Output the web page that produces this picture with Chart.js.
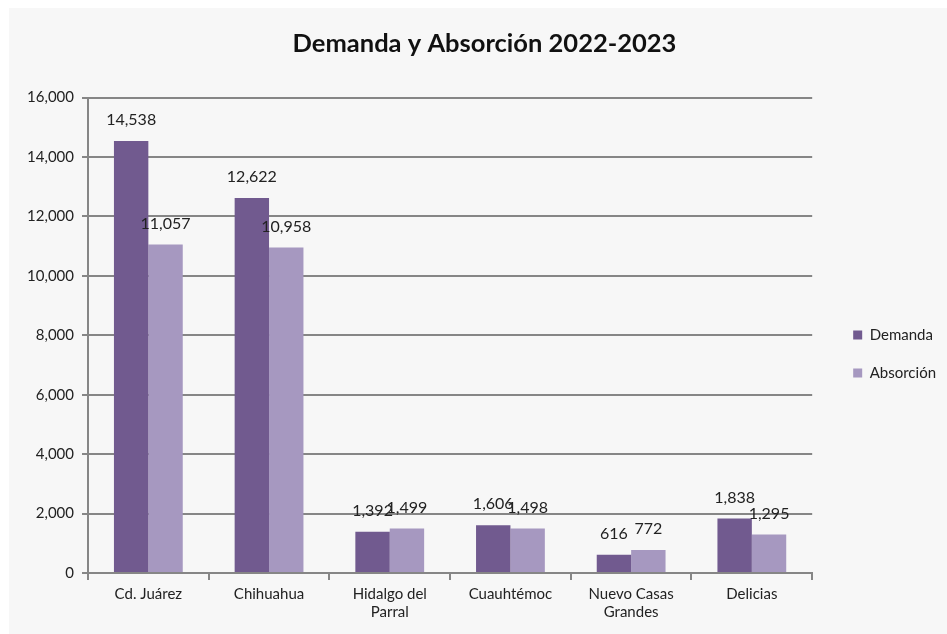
<!DOCTYPE html>
<html>
<head>
<meta charset="utf-8">
<script src="https://cdn.jsdelivr.net/npm/chart.js@4/dist/chart.umd.min.js"></script>
<style>
  html, body { margin: 0; padding: 0; background: #ffffff; }
  #wrap { position: absolute; left: 9px; top: 8px; width: 938px; height: 626px; background: #f7f7f7; }
</style>
</head>
<body>
<div id="wrap"><canvas id="c"></canvas></div>
<script>
const categories = [["Cd. Juárez"], ["Chihuahua"], ["Hidalgo del", "Parral"], ["Cuauhtémoc"], ["Nuevo Casas", "Grandes"], ["Delicias"]];
const demanda = [14538, 12622, 1392, 1606, 616, 1838];
const absorcion = [11057, 10958, 1499, 1498, 772, 1295];
const yTicks = [0, 2000, 4000, 6000, 8000, 10000, 12000, 14000, 16000];

const FONT = "Lato, 'Open Sans', sans-serif";
const fmt = v => v.toLocaleString('en-US');

const dataLabels = {
  id: 'dataLabels',
  afterDatasetsDraw(chart) {
    const ctx = chart.ctx;
    ctx.save();
    ctx.font = "16px " + FONT;
    ctx.fillStyle = '#222';
    ctx.textAlign = 'center';
    ctx.textBaseline = 'middle';
    chart.data.datasets.forEach((ds, i) => {
      chart.getDatasetMeta(i).data.forEach((bar, j) => {
        ctx.fillText(fmt(ds.data[j]), bar.x, bar.y - 21);
      });
    });
    ctx.restore();
  }
};

const nudge = {
  id: 'nudge',
  afterLayout(chart) {
    const lg = chart.legend;
    if (lg) { lg.left += 18; lg.right += 18; lg.top += 33; lg.bottom += 33; }
    const tb = chart.titleBlock;
    if (tb) { tb.left += 16; tb.right += 16; }
  }
};

new Chart(document.getElementById('c'), {
  type: 'bar',
  data: {
    labels: categories,
    datasets: [
      { label: 'Demanda', data: demanda, backgroundColor: '#715a8f', borderWidth: 0 },
      { label: 'Absorción', data: absorcion, backgroundColor: '#a698c0', borderWidth: 0 }
    ]
  },
  options: {
    responsive: true,
    maintainAspectRatio: false,
    animation: false,
    devicePixelRatio: 1,
    layout: { padding: { left: 0, right: 19, top: 0, bottom: 0 } },
    datasets: { bar: { categoryPercentage: 0.57, barPercentage: 1.0 } },
    plugins: {
      title: {
        display: true,
        text: 'Demanda y Absorción 2022-2023',
        color: '#111',
        font: { family: FONT, size: 25.5, weight: 'bold' },
        padding: { top: 20, bottom: 39 }
      },
      legend: {
        position: 'right',
        align: 'center',
        labels: {
          color: '#222',
          font: { family: FONT, size: 15 },
          boxWidth: 9,
          boxHeight: 9,
          padding: 23
        }
      },
      tooltip: { enabled: false }
    },
    scales: {
      x: {
        grid: { drawOnChartArea: false, drawTicks: true, tickLength: 7, color: '#868686', lineWidth: 2, offset: true },
        border: { color: '#868686', width: 2 },
        ticks: { color: '#222', font: { family: FONT, size: 15 }, padding: 5, maxRotation: 0, autoSkip: false },
        afterFit(s) { s.height = 61; }
      },
      y: {
        min: 0, max: 16000,
        afterBuildTicks(s) { s.ticks = yTicks.map(v => ({ value: v })); },
        grid: { color: '#868686', lineWidth: 2, tickLength: 6 },
        border: { color: '#868686', width: 2 },
        ticks: { color: '#222', font: { family: FONT, size: 15 }, padding: 8, callback: v => fmt(v) },
        afterFit(s) { s.width = 79; }
      }
    }
  },
  plugins: [dataLabels, nudge]
});
</script>
</body>
</html>
